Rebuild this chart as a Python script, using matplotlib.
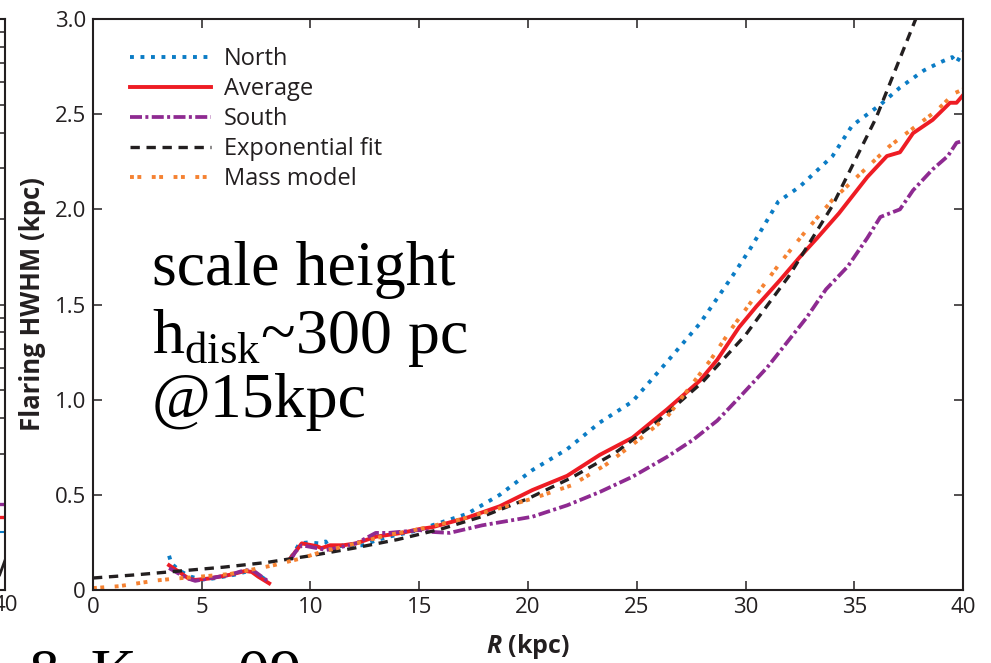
import numpy as np
import matplotlib
matplotlib.use("Agg")
import matplotlib.pyplot as plt

nan = np.nan

# ---- data (R in kpc, HWHM in kpc) ----
north_r = [3.5, 3.6, 4.0, 4.5, 5.0, 5.5, 6.0, 6.5, 7.0, 7.3, 7.6, 8.0, nan,
           9.1, 9.5, 9.9, 10.4, 10.7, 10.9, 11.5, 12.4, 13.0, 13.6, 15.0, 15.6,
           17.2, 18.7, 20.2, 21.8, 23.3, 24.8, 26.4, 27.9, 29.4, 30.2, 31.5,
           32.5, 34.0, 34.9, 36.2, 37.1, 38.2, 38.9, 39.5, 39.7, 40.0]
north_h = [0.18, 0.14, 0.10, 0.07, 0.055, 0.06, 0.07, 0.08, 0.095, 0.10, 0.08, 0.05, nan,
           0.17, 0.245, 0.25, 0.245, 0.255, 0.21, 0.235, 0.235, 0.26, 0.28, 0.315, 0.34,
           0.40, 0.50, 0.63, 0.74, 0.88, 0.99, 1.20, 1.40, 1.65, 1.79, 2.04,
           2.12, 2.28, 2.44, 2.55, 2.64, 2.73, 2.77, 2.80, 2.77, 2.83]

avg_r = [3.5, 3.96, 4.4, 4.7, 5.3, 6.3, 7.0, 7.3, 7.6, 8.1, nan,
         9.1, 9.6, 10.3, 10.5, 10.9, 11.5, 12.1, 13.0, 14.2, 15.0, 15.6, 17.2,
         18.7, 20.2, 21.8, 23.3, 24.8, 26.4, 27.9, 28.7, 29.7, 30.5, 31.6, 32.5,
         33.3, 34.3, 35.6, 36.5, 37.1, 37.7, 38.6, 39.4, 39.7, 40.0]
avg_h = [0.13, 0.095, 0.06, 0.053, 0.06, 0.08, 0.10, 0.095, 0.07, 0.035, nan,
         0.17, 0.245, 0.23, 0.22, 0.235, 0.235, 0.245, 0.28, 0.30, 0.32, 0.33, 0.38,
         0.44, 0.525, 0.60, 0.71, 0.80, 0.95, 1.10, 1.21, 1.38, 1.49, 1.63, 1.75,
         1.85, 1.98, 2.17, 2.28, 2.30, 2.40, 2.47, 2.56, 2.56, 2.60]

south_r = [3.5, 4.3, 4.7, 5.3, 6.3, 7.0, 7.4, 8.0, nan,
           9.1, 9.3, 9.6, 10.3, 10.7, 11.2, 12.1, 13.0, 13.6, 15.0, 15.6, 16.4,
           17.9, 20.2, 21.8, 23.3, 24.8, 26.4, 27.6, 28.7, 29.7, 31.0, 31.9, 32.8,
           33.7, 34.7, 35.6, 36.2, 37.1, 37.7, 38.6, 39.3, 39.7, 40.0]
south_h = [0.115, 0.063, 0.048, 0.06, 0.08, 0.105, 0.10, 0.05, nan,
           0.16, 0.20, 0.235, 0.22, 0.21, 0.22, 0.245, 0.30, 0.30, 0.315, 0.305, 0.30,
           0.34, 0.385, 0.445, 0.515, 0.595, 0.70, 0.79, 0.89, 1.01, 1.17, 1.30, 1.43,
           1.58, 1.70, 1.85, 1.96, 2.00, 2.10, 2.21, 2.28, 2.35, 2.36]

fit_r = [0, 2, 4, 6, 8, 10, 12, 14, 16, 18, 20, 22, 24, 26, 28, 30, 32, 34, 36, 38]
fit_h = [0.063, 0.08, 0.10, 0.12, 0.145, 0.18, 0.22, 0.265, 0.32, 0.39, 0.48,
         0.59, 0.72, 0.89, 1.09, 1.34, 1.65, 2.02, 2.48, 3.05]

mass_r = [0, 1.2, 2.9, 3.8, 4.9, 6.3, 8.3, 9.6, 10.5, 12.1, 13.6, 15.0, 16.85,
          18.7, 20.2, 22.0, 23.6, 25.1, 26.4, 27.0, 28.4, 29.4, 30.3, 31.6, 32.8,
          34.0, 35.4, 36.6, 37.4, 38.8, 39.6, 40.0]
mass_h = [0.01, 0.02, 0.05, 0.06, 0.07, 0.084, 0.13, 0.167, 0.20, 0.245, 0.29, 0.32, 0.37,
          0.43, 0.48, 0.55, 0.66, 0.79, 0.91, 1.0, 1.21, 1.38, 1.52, 1.72, 1.89,
          2.05, 2.2, 2.33, 2.40, 2.52, 2.61, 2.63]

# bits of the neighbouring panel that is cut off at the left edge
side_r = [38.0, 39.0, 40.0]
side_red = [0.18, 0.18, 0.18]
side_purple = [0.2, 0.2, 0.2]
side_blue = [0.16, 0.16, 0.16]
side_black_r = [39.3, 40.0]
side_black = [0.113, 0.127]

x_ticks = [0, 5, 10, 15, 20, 25, 30, 35, 40]
y_ticks = [0, 0.5, 1.0, 1.5, 2.0, 2.5, 3.0]
y_labels = ['0', '0.5', '1.0', '1.5', '2.0', '2.5', '3.0']

note_lines = ['scale height', r'h$_{\rm disk}$~300 pc', '@15kpc']

dark = '#231f20'
plt.rcParams['font.family'] = ['Open Sans', 'DejaVu Sans']
plt.rcParams['mathtext.fontset'] = 'custom'
plt.rcParams['mathtext.rm'] = 'Liberation Serif'
plt.rcParams['mathtext.bfit'] = 'Open Sans:italic:bold'

fig = plt.figure(figsize=(9.91, 6.63), dpi=100)
ax = fig.add_axes([0.0938, 0.1101, 0.8780, 0.8612])

ax.plot(north_r, north_h, color='#0b7cc5', lw=2.8, ls=(0, (1, 1.7)), label='North')
ax.plot(avg_r, avg_h, color='#ee1c24', lw=2.8, label='Average')
ax.plot(south_r, south_h, color='#8e2a91', lw=2.7, ls=(0, (3.2, 0.9, 0.8, 0.9)), label='South')
ax.plot(fit_r, fit_h, color=dark, lw=2.4, ls=(0, (2.8, 2.0)), label='Exponential fit')
ax.plot(mass_r, mass_h, color='#f58232', lw=2.8, ls=(0, (1, 0.9, 1, 2.7)), label='Mass model')

ax.set_xlim(0, 40)
ax.set_ylim(0, 3)
ax.set_xticks(x_ticks)
ax.set_yticks(y_ticks)
ax.set_yticklabels(y_labels)
ax.tick_params(direction='in', length=6.5, width=1.1, top=True, right=True,
               labelsize=16, colors=dark, pad=5)
for s in ax.spines.values():
    s.set_linewidth(1.5)
    s.set_color(dark)

ax.set_xlabel(r'$\mathbfit{R}$ (kpc)', fontsize=18, fontweight='bold', color=dark, labelpad=10)
ax.set_ylabel('Flaring HWHM (kpc)', fontsize=18.5, fontweight='bold', color=dark, labelpad=6)

leg = ax.legend(loc='upper left', bbox_to_anchor=(0.032, 0.967), frameon=False,
                fontsize=17, handlelength=3.4, handletextpad=0.55, labelspacing=0.25,
                borderaxespad=0)
for t in leg.get_texts():
    t.set_color(dark)

serif = 'Liberation Serif'
for line, base in zip(note_lines, [285, 353, 417]):
    fig.text(152 / 991, 1 - base / 663, line, fontsize=46, family=serif, va='baseline')
fig.text(25 / 991, -0.046, '& Korp 09', fontsize=46, family=serif, va='baseline')

# neighbouring panel sliver
ax2 = fig.add_axes([-0.30, 0.1101, 0.305, 0.8612])
ax2.plot(side_r, side_red, color='#ee1c24', lw=2.4)
ax2.plot(side_r, side_purple, color='#8e2a91', lw=2.4)
ax2.plot(side_r, side_blue, color='#0b7cc5', lw=1.5)
ax2.plot(side_black_r, side_black, color=dark, lw=2.0)
ax2.set_xlim(0, 40)
ax2.set_yscale('log')
ax2.set_ylim(0.1, 10)
ax2.set_xticks([40])
ax2.tick_params(axis='both', which='both', direction='in', right=True, left=False,
                labelleft=False, labelsize=16, colors=dark, length=6.5, width=1.1)
ax2.tick_params(axis='y', which='minor', length=4)
for s in ax2.spines.values():
    s.set_linewidth(1.5)
    s.set_color(dark)

fig.savefig('out.png', dpi=100)
